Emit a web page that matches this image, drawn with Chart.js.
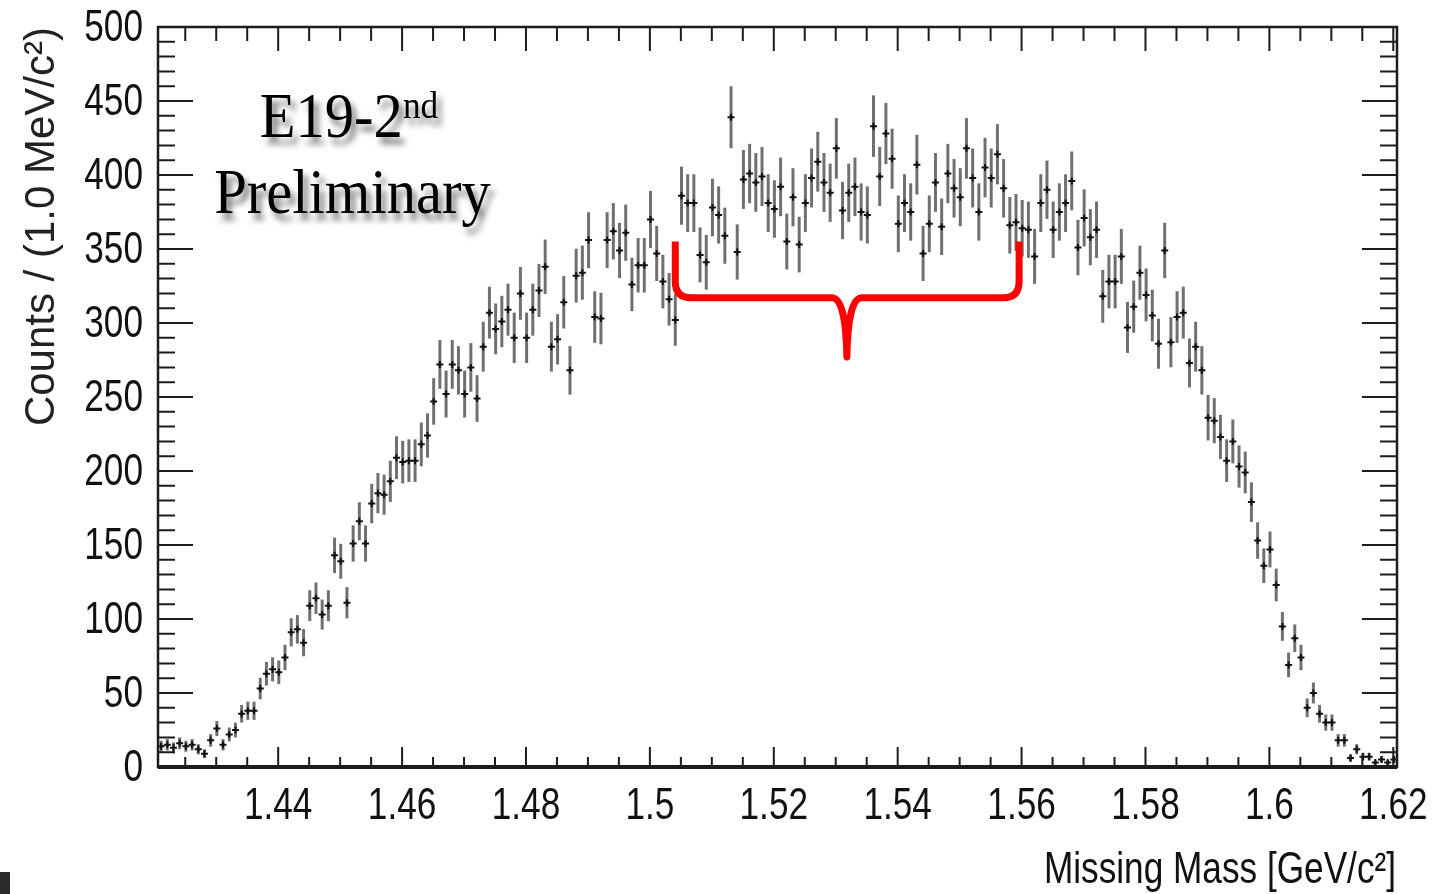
<!DOCTYPE html>
<html>
<head>
<meta charset="utf-8">
<script src="https://cdn.jsdelivr.net/npm/chart.js@4.4.1/dist/chart.umd.min.js"></script>
<style>
  html, body { margin:0; padding:0; background:#fff; }
  #wrap { position:relative; width:1441px; height:894px; overflow:hidden; }
  #label { position:absolute; left:204px; top:82px; width:290px; text-align:center;
    font-family:'Liberation Serif','Times New Roman',serif; font-size:63px; line-height:68px; color:#000;
    text-shadow:5px 7px 7px rgba(0,0,0,0.55); transform:scaleX(0.93); white-space:nowrap; }
  #label .sup { font-size:38px; position:relative; top:-19px; }
  #corner { position:absolute; left:0; top:872px; width:10px; height:22px; background:#2a2a2a; }
</style>
</head>
<body>
<div id="wrap">
  <canvas id="c" width="1441" height="894"></canvas>
  <div id="label">E19-2<span class="sup">nd</span><br>Preliminary</div>
  <div id="corner"></div>
</div>
<script>
// histogram: 1 MeV bins
const binStart = 1.4206;
const binWidth = 0.001;
const counts = [
  14, 15, 13, 16, 14, 15, 12, 9, 18, 26,
  15, 22, 25, 36, 38, 38, 53, 63, 66, 64,
  74, 91, 93, 84, 109, 114, 103, 109, 143, 139,
  111, 151, 166, 151, 178, 185, 184, 193, 209, 206,
  207, 207, 218, 224, 247, 272, 252, 272, 268, 252,
  270, 249, 284, 307, 296, 301, 309, 290, 320, 290,
  309, 322, 338, 284, 289, 314, 268, 332, 334, 356,
  304, 303, 356, 362, 349, 361, 326, 339, 339, 370,
  347, 328, 316, 302, 386, 381, 381, 346, 341, 378,
  373, 359, 439, 348, 397, 401, 395, 399, 381, 377,
  392, 355, 385, 353, 381, 398, 409, 395, 388, 418,
  376, 388, 392, 375, 373, 433, 399, 428, 411, 367,
  381, 375, 407, 347, 367, 395, 365, 401, 391, 385,
  418, 398, 375, 405, 398, 414, 391, 366, 368, 364,
  363, 345, 381, 390, 363, 375, 381, 396, 351, 371,
  358, 363, 318, 328, 328, 345, 297, 311, 334, 319,
  305, 286, 349, 287, 304, 307, 273, 284, 268, 236,
  234, 223, 207, 220, 203, 199, 179, 153, 136, 147,
  123, 95, 69, 87, 74, 40, 50, 36, 30, 30,
  18, 18, 6, 12, 7, 7, 3, 5, 3, 5
];
const xTickValues = [1.44, 1.46, 1.48, 1.5, 1.52, 1.54, 1.56, 1.58, 1.6, 1.62];
const yTickValues = [0, 50, 100, 150, 200, 250, 300, 350, 400, 450, 500];
const xTitle = 'Missing Mass [GeV/c²]';
const yTitle = 'Counts / (1.0 MeV/c²)';

// red brace marking the region (data coords)
const brace = { x1: 1.5041, x2: 1.5596, xc: 1.5318, yTop: 355, yBar: 317, yTip: 277 };

const sans = "'Liberation Sans',Arial,Helvetica,sans-serif";
const points = counts.map((c, i) => ({ x: binStart + binWidth * (i + 0.5), y: c }));

const errorBars = {
  id: 'errorBars',
  beforeDatasetsDraw(chart) {
    const { ctx, scales: { y } } = chart;
    const meta = chart.getDatasetMeta(0);
    ctx.save();
    ctx.strokeStyle = '#707070';
    ctx.lineWidth = 3;
    meta.data.forEach((pt, i) => {
      const c = counts[i];
      const e = Math.sqrt(c);
      ctx.beginPath();
      ctx.moveTo(pt.x, y.getPixelForValue(c + e));
      ctx.lineTo(pt.x, y.getPixelForValue(Math.max(c - e, 0)));
      ctx.stroke();
    });
    ctx.restore();
  }
};

// ROOT-like frame: inward ticks on all sides, narrow helvetica labels, brace
const rootFrame = {
  id: 'rootFrame',
  afterDatasetsDraw(chart) {
    const { ctx, chartArea: a, scales: { x, y } } = chart;
    ctx.save();
    ctx.strokeStyle = '#1c1c1c';
    ctx.lineWidth = 2;
    ctx.beginPath();
    for (let k = 285; k <= 324; k++) {
      const px = x.getPixelForValue(k * 0.005);
      if (px < a.left || px > a.right) continue;
      const len = k % 4 === 0 ? 20 : 10;
      ctx.moveTo(px, a.bottom); ctx.lineTo(px, a.bottom - len);
      ctx.moveTo(px, a.top); ctx.lineTo(px, a.top + len + 4);
    }
    for (let v = 10; v < 500; v += 10) {
      const py = y.getPixelForValue(v);
      const len = v % 50 === 0 ? 35 : 17;
      ctx.moveTo(a.left, py); ctx.lineTo(a.left + len, py);
      ctx.moveTo(a.right, py); ctx.lineTo(a.right - len, py);
    }
    ctx.stroke();
    ctx.lineWidth = 2.5;
    ctx.strokeRect(a.left, a.top, a.right - a.left, a.bottom - a.top);
    ctx.lineWidth = 4;
    ctx.beginPath();
    ctx.moveTo(a.left, a.bottom); ctx.lineTo(a.right, a.bottom);
    ctx.stroke();

    // labels
    ctx.fillStyle = '#111';
    ctx.font = '44px ' + sans;
    ctx.textBaseline = 'middle';
    y.ticks.forEach(t => {
      ctx.save();
      ctx.translate(a.left - 15, y.getPixelForValue(t.value) + 2);
      ctx.scale(0.8, 1);
      ctx.textAlign = 'right';
      ctx.fillText(String(t.value), 0, 0);
      ctx.restore();
    });
    x.ticks.forEach(t => {
      ctx.save();
      ctx.translate(x.getPixelForValue(t.value), a.bottom + 40);
      ctx.scale(0.8, 1);
      ctx.textAlign = 'center';
      ctx.fillText(String(+t.value.toFixed(2)), 0, 0);
      ctx.restore();
    });
    ctx.save();
    ctx.translate(a.right - 1, a.bottom + 104);
    ctx.scale(0.8, 1);
    ctx.textAlign = 'right';
    ctx.fillText(xTitle, 0, 0);
    ctx.restore();

    // brace
    const lx = x.getPixelForValue(brace.x1), rx = x.getPixelForValue(brace.x2);
    const cx = x.getPixelForValue(brace.xc);
    const top = y.getPixelForValue(brace.yTop), bar = y.getPixelForValue(brace.yBar);
    const tip = y.getPixelForValue(brace.yTip);
    ctx.strokeStyle = '#ff0000';
    ctx.lineWidth = 7;
    ctx.lineJoin = 'round';
    ctx.beginPath();
    ctx.moveTo(lx, top);
    ctx.lineTo(lx, bar - 16);
    ctx.quadraticCurveTo(lx, bar, lx + 16, bar);
    ctx.lineTo(cx - 14, bar);
    ctx.quadraticCurveTo(cx - 1, bar + 2, cx, tip);
    ctx.quadraticCurveTo(cx + 1, bar + 2, cx + 14, bar);
    ctx.lineTo(rx - 16, bar);
    ctx.quadraticCurveTo(rx, bar, rx, bar - 16);
    ctx.lineTo(rx, top);
    ctx.stroke();
    ctx.restore();
  }
};

new Chart(document.getElementById('c').getContext('2d'), {
  type: 'scatter',
  data: {
    datasets: [{
      data: points,
      pointStyle: 'cross',
      pointRadius: 3.5,
      borderColor: '#111',
      backgroundColor: '#111',
      borderWidth: 2
    }]
  },
  options: {
    responsive: false,
    animation: false,
    layout: { padding: { top: 27, right: 44, left: 0, bottom: 0 } },
    plugins: { legend: { display: false }, tooltip: { enabled: false } },
    scales: {
      x: {
        type: 'linear', min: 1.4206, max: 1.6206,
        grid: { display: false }, border: { display: false },
        afterBuildTicks: s => { s.ticks = xTickValues.map(v => ({ value: v })); },
        afterFit: s => { s.height = 127; s.paddingLeft = 0; s.paddingRight = 0; },
        ticks: { display: false }
      },
      y: {
        min: 0, max: 500,
        grid: { display: false }, border: { display: false },
        afterBuildTicks: s => { s.ticks = yTickValues.map(v => ({ value: v })); },
        afterFit: s => { s.width = 158; s.paddingTop = 0; s.paddingBottom = 0; },
        ticks: { display: false },
        title: {
          display: true, text: yTitle, align: 'end',
          padding: { top: 17, bottom: 0 }, color: '#222',
          font: { family: sans, size: 42 }
        }
      }
    }
  },
  plugins: [errorBars, rootFrame]
});
</script>
</body>
</html>
